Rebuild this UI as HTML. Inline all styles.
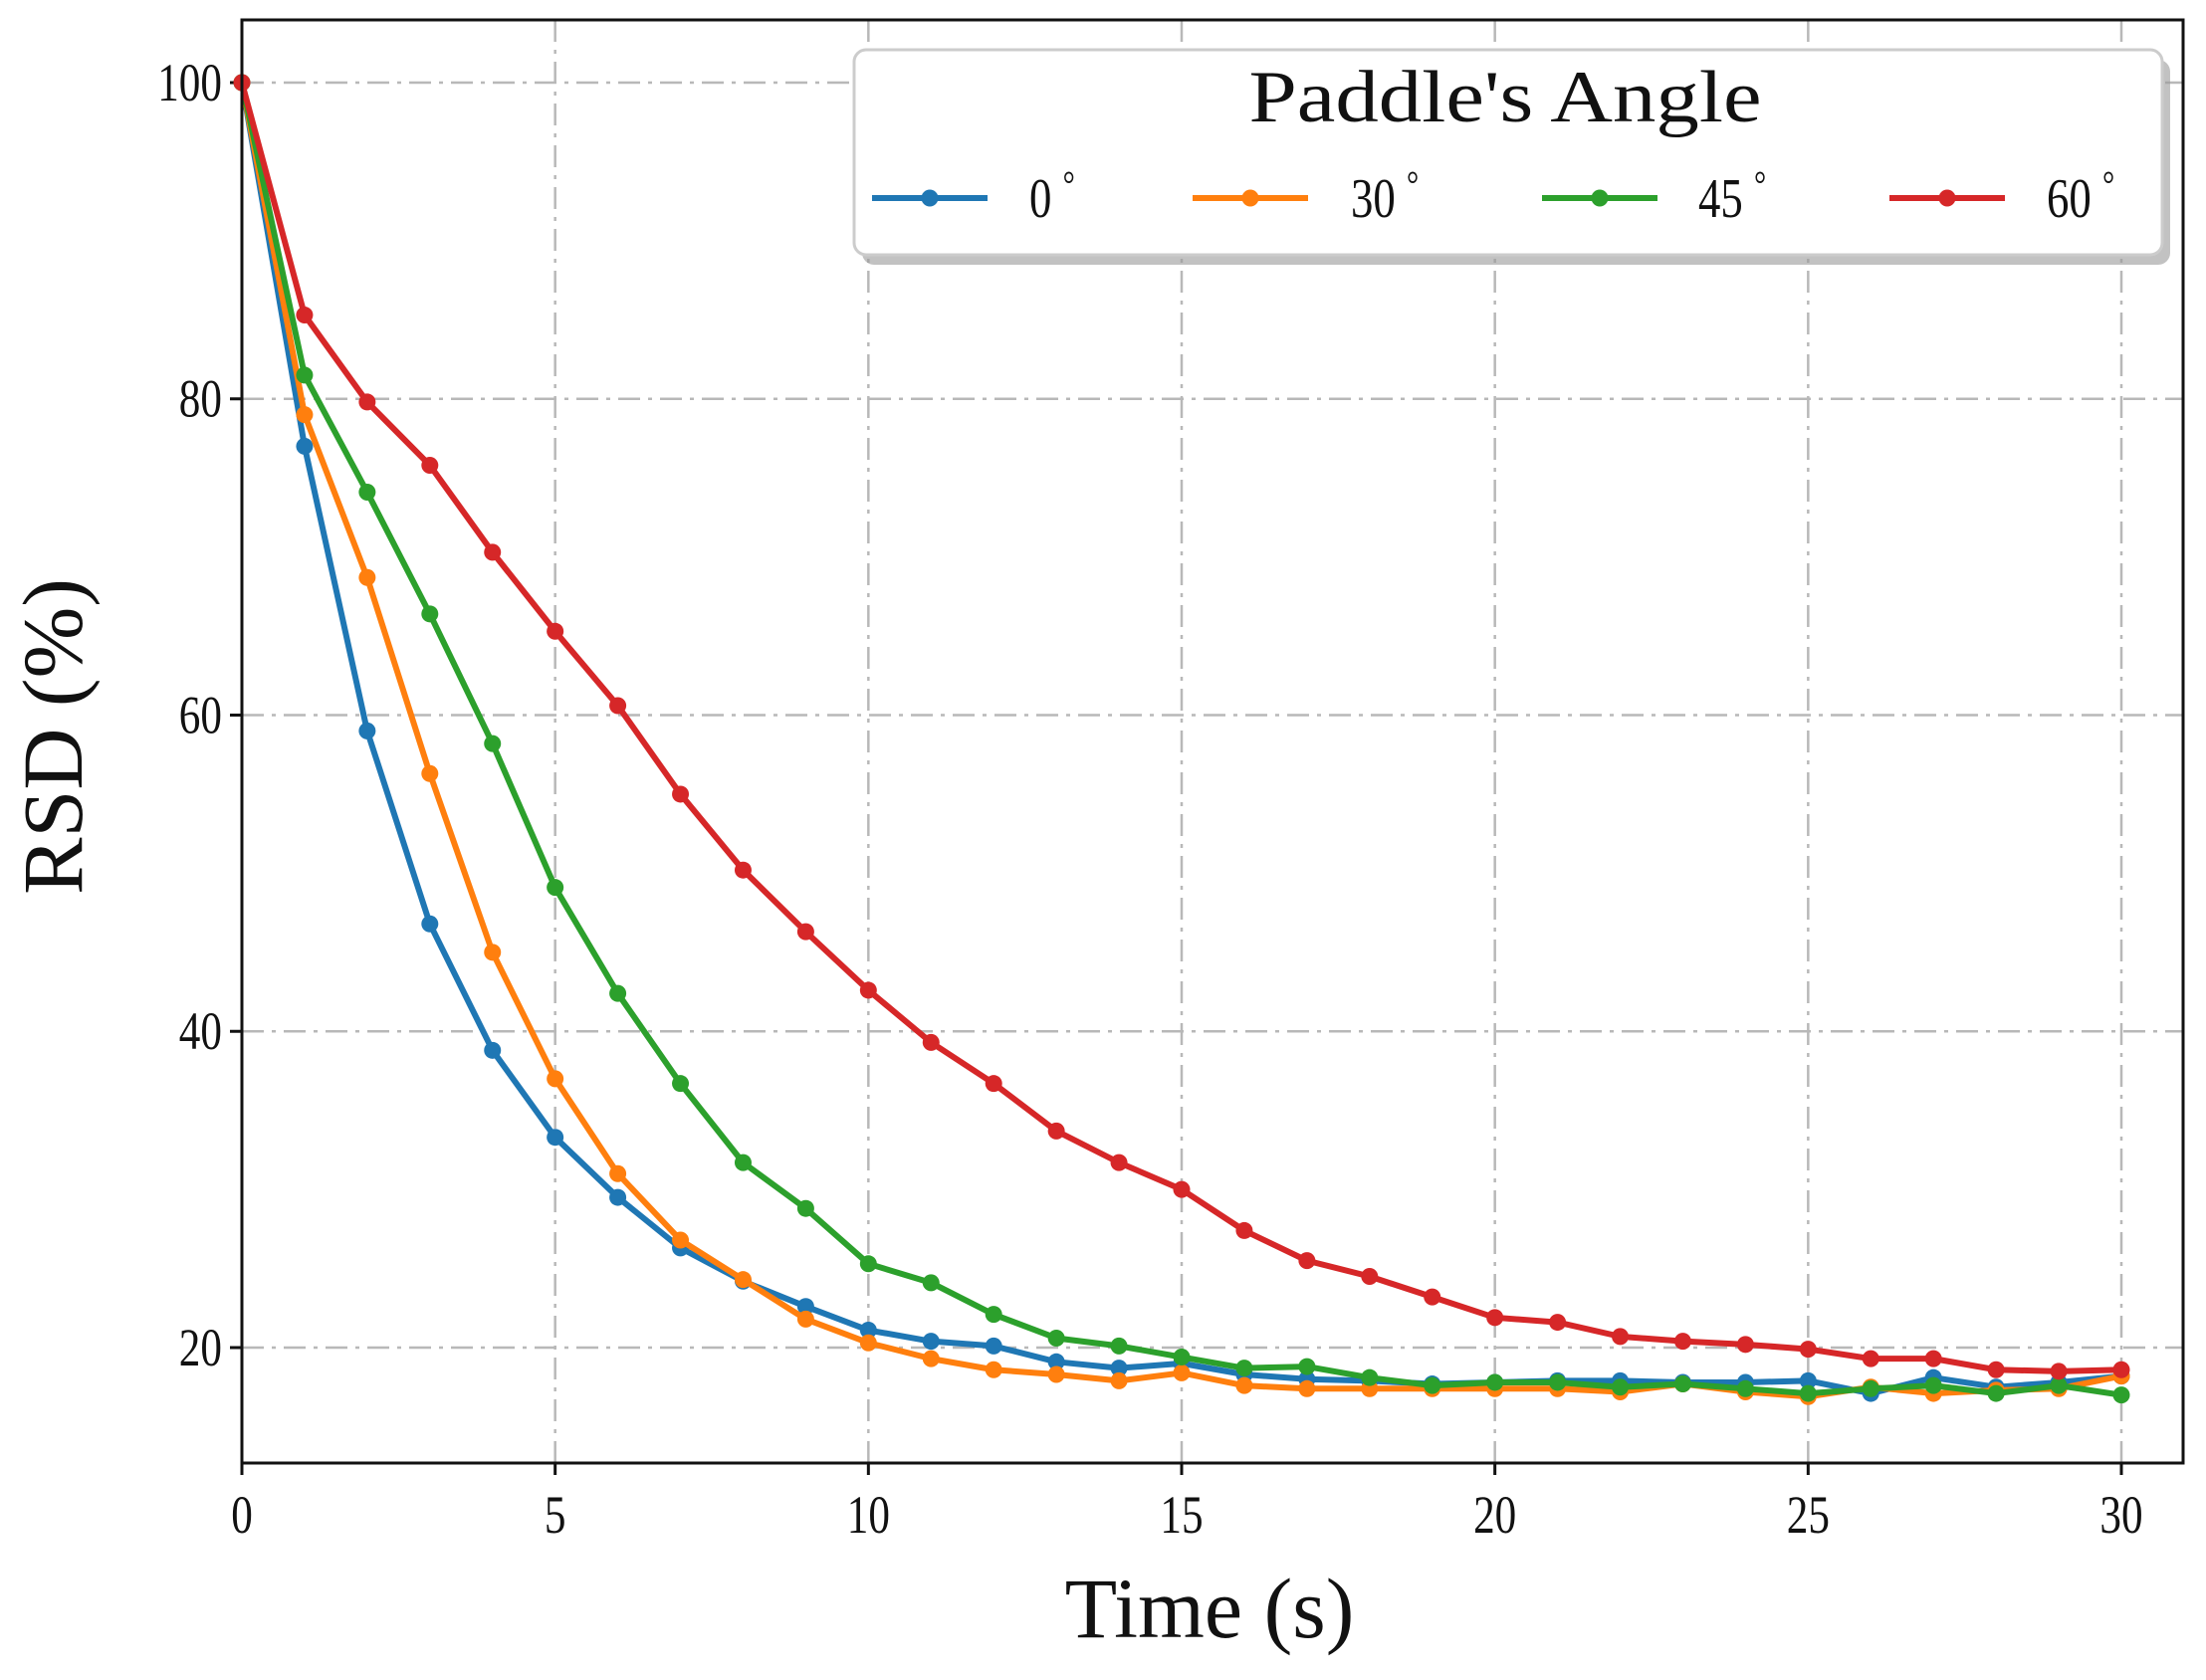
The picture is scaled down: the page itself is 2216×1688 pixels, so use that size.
<!DOCTYPE html>
<html><head><meta charset="utf-8"><style>
html,body{margin:0;padding:0;background:#fff;}
svg text{font-family:"Liberation Serif",serif;fill:#111;}
</style></head><body>
<svg id="s" xmlns="http://www.w3.org/2000/svg" width="2216" height="1683" viewBox="0 0 2216 1683"></svg>
<script>
const s=document.getElementById('s');
const L=243,R=2193,T=20,B=1470;
const X=v=>243+v*(2131-243)/30;
const Y=v=>83+(100-v)*(1354-83)/80;
let h='';
for(let x=0;x<=30;x+=5){h+=`<line x1="${X(x)}" y1="${T}" x2="${X(x)}" y2="${B}" stroke="#b8b8b8" stroke-width="2.5" stroke-dasharray="22,8,4,8"/>`;}
for(let y=20;y<=100;y+=20){h+=`<line x1="${L}" y1="${Y(y)}" x2="${R}" y2="${Y(y)}" stroke="#b8b8b8" stroke-width="2.5" stroke-dasharray="22,8,4,8"/>`;}
for(let x=0;x<=30;x+=5){h+=`<line x1="${X(x)}" y1="${B}" x2="${X(x)}" y2="${B+12}" stroke="#111" stroke-width="3"/>`;
h+=`<text x="${X(x)}" y="${B+70}" font-size="54" text-anchor="middle" transform="translate(${X(x)},0) scale(0.8,1) translate(${-X(x)},0)">${x}</text>`;}
for(let y=20;y<=100;y+=20){h+=`<line x1="${L-12}" y1="${Y(y)}" x2="${L}" y2="${Y(y)}" stroke="#111" stroke-width="3"/>`;
h+=`<text x="${L-20}" y="${Y(y)+18}" font-size="54" text-anchor="end" transform="translate(${L-20},0) scale(0.8,1) translate(${-(L-20)},0)">${y}</text>`;}
const data={
'#1f77b4':[100,77,59,46.8,38.8,33.3,29.5,26.3,24.2,22.6,21.1,20.4,20.1,19.1,18.7,19.0,18.3,18.0,17.9,17.7,17.8,17.9,17.9,17.8,17.8,17.9,17.1,18.1,17.5,17.8,18.2],
'#ff7f0e':[100,79,68.7,56.3,45,37,31,26.8,24.3,21.8,20.3,19.3,18.6,18.3,17.9,18.4,17.6,17.4,17.4,17.4,17.4,17.4,17.2,17.7,17.2,16.9,17.5,17.1,17.3,17.4,18.2],
'#2ca02c':[100,81.5,74.1,66.4,58.2,49.1,42.4,36.7,31.7,28.8,25.3,24.1,22.1,20.6,20.1,19.4,18.7,18.8,18.1,17.6,17.8,17.8,17.5,17.7,17.4,17.1,17.4,17.6,17.1,17.6,17.0],
'#d62728':[100,85.3,79.8,75.8,70.3,65.3,60.6,55.0,50.2,46.3,42.6,39.3,36.7,33.7,31.7,30.0,27.4,25.5,24.5,23.2,21.9,21.6,20.7,20.4,20.2,19.9,19.3,19.3,18.6,18.5,18.6]};
for(const c in data){const d=data[c];
h+=`<polyline fill="none" stroke="${c}" stroke-width="6" stroke-linejoin="round" points="${d.map((v,i)=>X(i)+','+Y(v)).join(' ')}"/>`;
d.forEach((v,i)=>{h+=`<circle cx="${X(i)}" cy="${Y(v)}" r="8.5" fill="${c}"/>`;});}
h+=`<rect x="${L}" y="${T}" width="${R-L}" height="${B-T}" fill="none" stroke="#111" stroke-width="3"/>`;
h+=`<rect x="866" y="60" width="1314" height="206" rx="12" fill="#999" opacity="0.6"/>`;
h+=`<rect x="858" y="50" width="1314" height="206" rx="12" fill="#fff" stroke="#ccc" stroke-width="3"/>`;
h+=`<text x="1512" y="122" font-size="74" text-anchor="middle" textLength="515" lengthAdjust="spacingAndGlyphs">Paddle's Angle</text>`;
const ent=[[876,1034,'0','#1f77b4'],[1198,1357,'30','#ff7f0e'],[1549,1706,'45','#2ca02c'],[1898,2056,'60','#d62728']];
ent.forEach(e=>{h+=`<line x1="${e[0]}" y1="199" x2="${e[0]+116}" y2="199" stroke="${e[3]}" stroke-width="6"/><circle cx="${e[0]+58}" cy="199" r="8.5" fill="${e[3]}"/>`;
h+=`<text x="${e[1]}" y="218" font-size="56" transform="translate(${e[1]},0) scale(0.8,1) translate(${-e[1]},0)">${e[2]}<tspan dx="14" dy="-20" font-size="38">°</tspan></text>`;});
h+=`<text x="1215" y="1645" font-size="86" text-anchor="middle">Time (s)</text>`;
h+=`<text transform="translate(82,740) rotate(-90)" font-size="86" text-anchor="middle">RSD (%)</text>`;
s.innerHTML=h;
</script>
</body></html>
